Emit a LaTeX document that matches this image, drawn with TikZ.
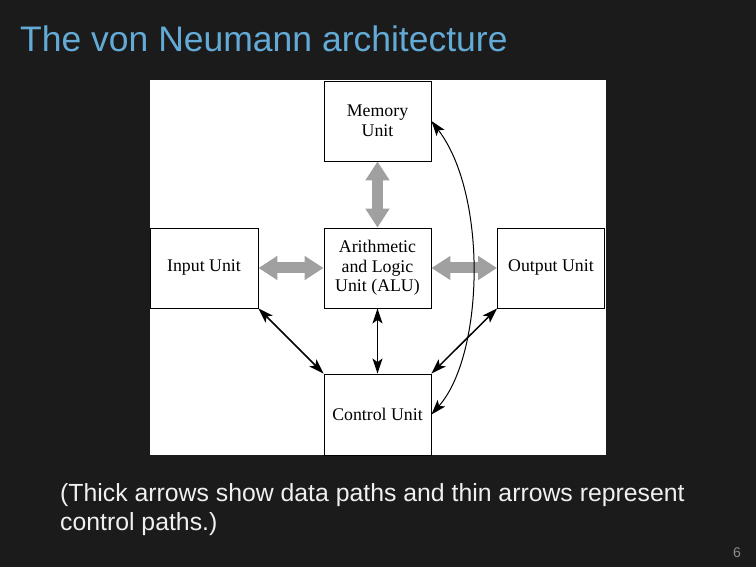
\documentclass[tikz,border=0pt]{standalone}
\usepackage{fontspec}
\setmainfont{Liberation Sans}
\newfontfamily\boxfont{Liberation Serif}
\usetikzlibrary{arrows.meta}
\definecolor{bgdark}{RGB}{27,27,27}
\definecolor{titleblue}{RGB}{99,170,214}
\definecolor{datagray}{RGB}{160,160,160}
\definecolor{pagegray}{RGB}{140,140,140}
\tikzset{
  unitbox/.style={draw=black, line width=0.9pt, fill=white, minimum width=107pt, minimum height=80pt,
    inner sep=0pt, align=center, font=\boxfont\fontsize{17.8}{19.5}\selectfont},
  datapath/.style={draw=datagray, line width=11pt,
    {Triangle[length=19pt,width=23pt]}-{Triangle[length=19pt,width=23pt]}},
  ctrlpath/.style={draw=black, line width=1.5pt,
    {Stealth[length=15pt,width=10pt,inset=3.5pt]}-{Stealth[length=15pt,width=10pt,inset=3.5pt]}},
  ctrlcurve/.style={draw=black, line width=1pt,
    {Stealth[length=15pt,width=10pt,inset=3.5pt]}-{Stealth[length=15pt,width=10pt,inset=3.5pt]}}
}
\begin{document}
\begin{tikzpicture}[x=1pt,y=-1pt]
  \fill[bgdark] (0,0) rectangle (756,567);
  \useasboundingbox (0,0) rectangle (756,567);
  \fill[white] (150,80) rectangle (606,455);

  \node[anchor=base west, text=titleblue, inner sep=0pt, font=\fontsize{35.5}{40}\selectfont] (title) at (20,52) {The von Neumann architecture};

  \node[unitbox] (mem) at (377.5,121) {Memory\\Unit};
  \node[unitbox, minimum width=108pt] (in) at (204,268) {Input Unit};
  \node[unitbox] (alu) at (377.5,268) {Arithmetic\\and Logic\\Unit (ALU)};
  \node[unitbox] (out) at (551,268) {Output Unit};
  \node[unitbox, minimum height=81pt] (ctl) at (377.5,414.5) {Control Unit};

  \draw[datapath] (mem.south) -- (alu.north);
  \draw[datapath] (in.east) -- (alu.west);
  \draw[datapath] (alu.east) -- (out.west);

  \draw[ctrlpath] (in.south east) -- (ctl.north west);
  \draw[ctrlpath] (alu.south) -- (ctl.north);
  \draw[ctrlpath] (out.south west) -- (ctl.north east);
  \draw[ctrlcurve] (mem.east) .. controls (488,195) and (484,355) .. (ctl.east);

  \node[anchor=base west, text=white!94!black, inner sep=0pt, font=\fontsize{24.8}{29}\selectfont] (cap1) at (60,501) {(Thick arrows show data paths and thin arrows represent};
  \node[anchor=base west, text=white!94!black, inner sep=0pt, font=\fontsize{24.8}{29}\selectfont] (cap2) at (60,530) {control paths.)};

  \node[anchor=base east, text=pagegray, inner sep=0pt, font=\fontsize{14}{16}\selectfont] (page) at (741,557) {6};
\end{tikzpicture}
\end{document}
